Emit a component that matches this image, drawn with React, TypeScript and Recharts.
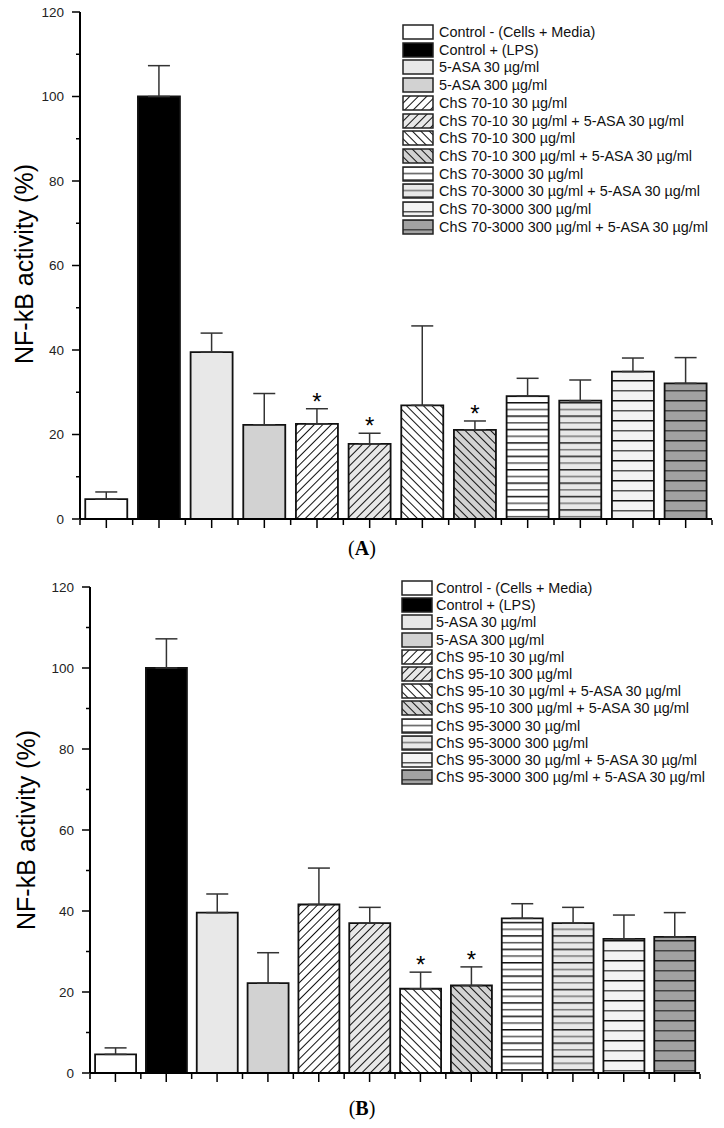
import { ComposedChart, Bar, Cell, XAxis, YAxis, ErrorBar, LabelList } from "recharts";

const FONT = "'Liberation Sans', Arial, sans-serif";

// panel A
const labelsA = [
  "Control - (Cells + Media)",
  "Control + (LPS)",
  "5-ASA 30 µg/ml",
  "5-ASA 300 µg/ml",
  "ChS 70-10 30 µg/ml",
  "ChS 70-10 30 µg/ml + 5-ASA 30 µg/ml",
  "ChS 70-10 300 µg/ml",
  "ChS 70-10 300 µg/ml + 5-ASA 30 µg/ml",
  "ChS 70-3000 30 µg/ml",
  "ChS 70-3000 30 µg/ml + 5-ASA 30 µg/ml",
  "ChS 70-3000 300 µg/ml",
  "ChS 70-3000 300 µg/ml + 5-ASA 30 µg/ml",
];
const valuesA = [4.7, 100, 39.5, 22.3, 22.5, 17.8, 26.9, 21.1, 29.1, 28.0, 34.9, 32.1];
const errorsA = [1.7, 7.3, 4.5, 7.4, 3.6, 2.5, 18.8, 2.1, 4.2, 4.9, 3.2, 6.1];
const starsA = [false, false, false, false, true, true, false, true, false, false, false, false];

// panel B
const labelsB = [
  "Control - (Cells + Media)",
  "Control + (LPS)",
  "5-ASA 30 µg/ml",
  "5-ASA 300 µg/ml",
  "ChS 95-10 30 µg/ml",
  "ChS 95-10 300 µg/ml",
  "ChS 95-10 30 µg/ml + 5-ASA 30 µg/ml",
  "ChS 95-10 300 µg/ml + 5-ASA 30 µg/ml",
  "ChS 95-3000 30 µg/ml",
  "ChS 95-3000 300 µg/ml",
  "ChS 95-3000 30 µg/ml + 5-ASA 30 µg/ml",
  "ChS 95-3000 300 µg/ml + 5-ASA 30 µg/ml",
];
const valuesB = [4.6, 100, 39.6, 22.2, 41.6, 37.0, 20.8, 21.6, 38.2, 37.0, 33.1, 33.6];
const errorsB = [1.6, 7.2, 4.6, 7.5, 9.0, 3.9, 4.1, 4.6, 3.6, 3.9, 5.9, 6.0];
const starsB = [false, false, false, false, false, false, true, true, false, false, false, false];

const yTicks = [0, 10, 20, 30, 40, 50, 60, 70, 80, 90, 100, 110, 120];
const bounds = [0, 1, 2, 3, 4, 5, 6, 7, 8, 9, 10, 11, 12];

const Patterns = () => (
  <svg width={0} height={0} style={{ position: "absolute" }}>
    <defs>
      <pattern id="p0" width={10} height={10} patternUnits="userSpaceOnUse">
        <rect width={10} height={10} fill="#fff" />
      </pattern>
      <pattern id="p1" width={10} height={10} patternUnits="userSpaceOnUse">
        <rect width={10} height={10} fill="#000" />
      </pattern>
      <pattern id="p2" width={10} height={10} patternUnits="userSpaceOnUse">
        <rect width={10} height={10} fill="#e8e8e8" />
      </pattern>
      <pattern id="p3" width={10} height={10} patternUnits="userSpaceOnUse">
        <rect width={10} height={10} fill="#d2d2d2" />
      </pattern>
      <pattern id="p4" width={6} height={6} patternUnits="userSpaceOnUse" patternTransform="rotate(45)">
        <rect width={6} height={6} fill="#fff" />
        <line x1={0.5} y1={0} x2={0.5} y2={6} stroke="#111" strokeWidth={1} />
      </pattern>
      <pattern id="p5" width={6} height={6} patternUnits="userSpaceOnUse" patternTransform="rotate(45)">
        <rect width={6} height={6} fill="#e8e8e8" />
        <line x1={0.5} y1={0} x2={0.5} y2={6} stroke="#111" strokeWidth={1} />
      </pattern>
      <pattern id="p6" width={6} height={6} patternUnits="userSpaceOnUse" patternTransform="rotate(-45)">
        <rect width={6} height={6} fill="#fff" />
        <line x1={0.5} y1={0} x2={0.5} y2={6} stroke="#111" strokeWidth={1} />
      </pattern>
      <pattern id="p7" width={6} height={6} patternUnits="userSpaceOnUse" patternTransform="rotate(-45)">
        <rect width={6} height={6} fill="#d2d2d2" />
        <line x1={0.5} y1={0} x2={0.5} y2={6} stroke="#111" strokeWidth={1} />
      </pattern>
      <pattern id="p8" width={10} height={13.4} patternUnits="userSpaceOnUse">
        <rect width={10} height={13.4} fill="#fff" />
        <line x1={0} y1={0.75} x2={10} y2={0.75} stroke="#111" strokeWidth={1.5} />
        <line x1={0} y1={7.45} x2={10} y2={7.45} stroke="#555" strokeWidth={1.5} />
      </pattern>
      <pattern id="p9" width={10} height={13.4} patternUnits="userSpaceOnUse">
        <rect width={10} height={13.4} fill="#e8e8e8" />
        <line x1={0} y1={0.75} x2={10} y2={0.75} stroke="#222" strokeWidth={1.5} />
        <line x1={0} y1={7.45} x2={10} y2={7.45} stroke="#777" strokeWidth={1.5} />
      </pattern>
      <pattern id="p10" width={10} height={20} patternUnits="userSpaceOnUse">
        <rect width={10} height={20} fill="#f3f3f3" />
        <line x1={0} y1={0.75} x2={10} y2={0.75} stroke="#111" strokeWidth={1.5} />
        <line x1={0} y1={10.75} x2={10} y2={10.75} stroke="#555" strokeWidth={1.5} />
      </pattern>
      <pattern id="p11" width={10} height={20} patternUnits="userSpaceOnUse">
        <rect width={10} height={20} fill="#a2a2a2" />
        <line x1={0} y1={0.75} x2={10} y2={0.75} stroke="#222" strokeWidth={1.5} />
        <line x1={0} y1={10.75} x2={10} y2={10.75} stroke="#444" strokeWidth={1.5} />
      </pattern>
    </defs>
  </svg>
);

const YTick = ({ x, y, payload }: any) => {
  const major = payload.value % 20 === 0;
  return (
    <g>
      <line x1={x - (major ? 8 : 4)} x2={x} y1={y} y2={y} stroke="#000" strokeWidth={1.5} />
      {major && (
        <text x={x - 16} y={y} dy="0.36em" textAnchor="end" fontSize={13.5}
          fontFamily={FONT} fill="#222">
          {payload.value}
        </text>
      )}
    </g>
  );
};

function Panel({ labels, values, errors, stars, width, height, margin }: any) {
  const data = labels.map((name: string, i: number) => ({
    name, idx: i, value: values[i], err: [0, errors[i]],
  }));
  const Star = (p: any) => {
    const { x, y, width: w, height: h, value, index } = p;
    if (!stars[index]) return null;
    const top = y - (errors[index] * h) / value;
    return (
      <text x={x + w / 2} y={top + 1} textAnchor="middle" fontSize={24}
        fontFamily={FONT} fill="#000">*</text>
    );
  };
  return (
    <ComposedChart width={width} height={height} data={data} margin={margin}
      barCategoryGap="10%">
      <XAxis dataKey="name" height={1} tickSize={9} interval={0}
        tickFormatter={() => ""} tick={{ fontSize: 0 }}
        axisLine={{ stroke: "#000", strokeWidth: 2 }}
        tickLine={{ stroke: "#000", strokeWidth: 1.5 }} />
      <XAxis xAxisId="minor" dataKey="idx" type="number" domain={[0, 12]} ticks={bounds}
        allowDataOverflow height={1} tickSize={5} axisLine={false} interval={0}
        tickFormatter={() => ""} tick={{ fontSize: 0 }}
        tickLine={{ stroke: "#000", strokeWidth: 1.5 }} />
      <YAxis domain={[0, 120]} ticks={yTicks} interval={0} width={60}
        tickSize={0} tickMargin={0} tickLine={false}
        axisLine={{ stroke: "#000", strokeWidth: 2 }} tick={<YTick />} />
      <Bar dataKey="value" stroke="#111" strokeWidth={1.8} isAnimationActive={false}>
        {data.map((_: any, i: number) => (
          <Cell key={i} fill={`url(#p${i})`} />
        ))}
        <ErrorBar dataKey="err" direction="y" width={11} stroke="#333" strokeWidth={1.5}
          isAnimationActive={false} />
        <LabelList dataKey="value" content={Star} />
      </Bar>
    </ComposedChart>
  );
}

function LegendBox({ labels, left, top, pitch, textX }: any) {
  return (
    <div style={{ position: "absolute", left: 0, top: 0 }}>
      {labels.map((l: string, i: number) => (
        <div key={i} style={{ position: "absolute", top: top + i * pitch, left, height: 16,
          display: "flex", alignItems: "center", whiteSpace: "nowrap" }}>
          <svg width={32} height={16} style={{ display: "block" }}>
            <rect x={1} y={1} width={30} height={14} fill={`url(#p${i})`}
              stroke="#222" strokeWidth={1.5} />
          </svg>
          <span style={{ marginLeft: textX - left - 32, fontFamily: FONT, fontSize: 14.4,
            color: "#111" }}>{l}</span>
        </div>
      ))}
    </div>
  );
}

const AxisTitle = ({ cx, cy }: { cx: number; cy: number }) => (
  <svg width={60} height={300} style={{ position: "absolute", left: cx - 30, top: cy - 150 }}>
    <text x={30} y={150} transform="rotate(-90 30 150)" textAnchor="middle" dy="0.35em"
      fontFamily={FONT} fontSize={25} fill="#000">NF-kB activity (%)</text>
  </svg>
);

const PanelTag = ({ cx, cy, tag }: { cx: number; cy: number; tag: string }) => (
  <div style={{ position: "absolute", left: cx - 40, top: cy - 12, width: 80, textAlign: "center",
    fontFamily: "'Liberation Serif', 'Times New Roman', serif", fontSize: 20, lineHeight: "24px" }}>
    (<b>{tag}</b>)
  </div>
);

export default function App() {
  return (
    <div style={{ position: "absolute", left: 0, top: 0, width: 724, height: 1128, background: "#fff",
      overflow: "hidden" }}>
      <Patterns />
      <div style={{ position: "absolute", left: 0, top: 0 }}>
        <Panel labels={labelsA} values={valuesA} errors={errorsA} stars={starsA}
          width={724} height={545} margin={{ top: 12, right: 12, bottom: 24, left: 20 }} />
      </div>
      <div style={{ position: "absolute", left: 0, top: 560 }}>
        <Panel labels={labelsB} values={valuesB} errors={errorsB} stars={starsB}
          width={724} height={540} margin={{ top: 27, right: 24, bottom: 25, left: 30 }} />
      </div>
      <AxisTitle cx={24} cy={264} />
      <AxisTitle cx={26} cy={830} />
      <LegendBox labels={labelsA} left={402} top={24} pitch={17.7} textX={439} />
      <LegendBox labels={labelsB} left={401} top={580} pitch={17.2} textX={436} />
      <PanelTag cx={362} cy={548} tag="A" />
      <PanelTag cx={362} cy={1108} tag="B" />
    </div>
  );
}
